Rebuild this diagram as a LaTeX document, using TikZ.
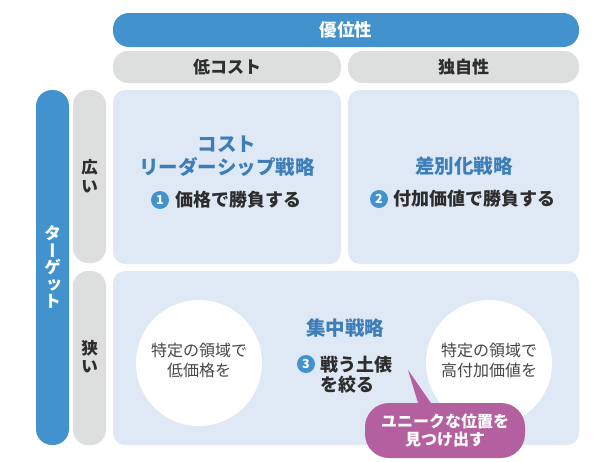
\documentclass[tikz,border=0pt]{standalone}
\usepackage{fontspec}
\setmainfont{Noto Sans CJK JP}
\usetikzlibrary{shapes.geometric}
\definecolor{barblue}{RGB}{66,146,206}
\definecolor{headgray}{RGB}{221,222,222}
\definecolor{cellblue}{RGB}{223,232,245}
\definecolor{titleblue}{RGB}{62,126,184}
\definecolor{darktext}{RGB}{45,45,45}
\definecolor{circtext}{RGB}{70,70,70}
\definecolor{pinkbub}{RGB}{180,96,160}
\tikzset{
  bluebar/.style={fill=barblue, rounded corners=16pt, inner sep=0pt, text=white,
    font=\fontsize{17.5}{20}\selectfont\bfseries},
  graybar/.style={fill=headgray, rounded corners=15pt, inner sep=0pt, text=darktext,
    font=\fontsize{17}{20}\selectfont\bfseries},
  cellbox/.style={fill=cellblue, rounded corners=12pt, inner sep=0pt},
  titletext/.style={text=titleblue, align=center, inner sep=0pt,
    font=\fontsize{19.5}{23}\selectfont\bfseries},
  bodytext/.style={text=darktext, anchor=west, inner sep=0pt,
    font=\fontsize{18}{21}\selectfont\bfseries},
  badge/.style={circle, fill=barblue, minimum size=18pt, inner sep=0pt, text=white,
    font=\fontsize{12.5}{13}\selectfont\bfseries},
  whitecirc/.style={circle, fill=white, minimum size=126pt, inner sep=0pt},
  circletext/.style={text=circtext, align=center, inner sep=0pt,
    font=\fontsize{16}{20}\selectfont},
  vchar/.style={inner sep=0pt, text height=12pt, text depth=2pt,
    font=\fontsize{16.5}{18}\selectfont\bfseries},
  bubble/.style={fill=pinkbub, rounded corners=24pt, minimum width=160pt, minimum height=55pt,
    inner sep=0pt, text=white, align=center, font=\fontsize{16}{18.5}\selectfont\bfseries},
}
\begin{document}
\begin{tikzpicture}[x=1pt,y=-1pt]
\useasboundingbox (0,0) rectangle (600,461);
\fill[white] (0,0) rectangle (600,461);
% header bars
\node[bluebar, minimum width=466pt, minimum height=34pt] (top) at (346,30) {優位性};
\node[graybar, minimum width=228pt, minimum height=32pt] (hl) at (227,67) {低コスト};
\node[graybar, minimum width=231pt, minimum height=32pt] (hr) at (463.5,67) {独自性};
% side bars
\node[bluebar, minimum width=33pt, minimum height=355pt] (vb) at (52.5,267.5) {};
\node[graybar, minimum width=33pt, minimum height=173pt] (g1) at (89.5,176.5) {};
\node[graybar, minimum width=33pt, minimum height=174pt] (g2) at (89.5,358) {};
% vertical texts
\node[vchar, text=white] (t1) at (52.5,234) {タ};
\node[vchar, text=white, rotate=-90, text height=11.5pt, text depth=0pt] (t2) at (52.5,251) {ー};
\node[vchar, text=white] (t3) at (52.5,268) {ゲ};
\node[vchar, text=white] (t4) at (54,284) {ッ};
\node[vchar, text=white] (t5) at (52.5,302) {ト};
\node[vchar, text=darktext] (w1) at (89.5,168) {広};
\node[vchar, text=darktext] (w2) at (89.5,187) {い};
\node[vchar, text=darktext] (n1) at (89.5,349) {狭};
\node[vchar, text=darktext] (n2) at (89.5,367) {い};
% cells
\node[cellbox, minimum width=228pt, minimum height=174pt] (c1) at (227,177) {};
\node[cellbox, minimum width=231pt, minimum height=174pt] (c2) at (463.5,177) {};
\node[cellbox, minimum width=466pt, minimum height=174pt] (c3) at (346,358) {};
% cell 1
\node[titletext] (c1t) at (227,156.5) {コスト\\リーダーシップ戦略};
\node[badge] (b1) at (160,200) {1};
\node[bodytext] (c1b) at (175,200) {価格で勝負する};
% cell 2
\node[titletext] (c2t) at (464,166) {差別化戦略};
\node[badge] (b2) at (379,199) {2};
\node[bodytext] (c2b) at (393,199) {付加価値で勝負する};
% cell 3
\node[whitecirc] (lc) at (199,363) {};
\node[whitecirc] (rc) at (489,363) {};
\node[circletext] (lct) at (199,360) {特定の領域で\\低価格を};
\node[circletext] (rct) at (489,360) {特定の領域で\\高付加価値を};
\node[titletext] (c3t) at (345,328) {集中戦略};
\node[badge] (b3) at (306,364) {3};
\node[bodytext] (c3b) at (320,365) {戦う土俵};
\node[bodytext, anchor=center] (c3c) at (347,385) {を絞る};
% bubble
\coordinate (tip) at (408,370);
\node[bubble] (bub) at (445,430.5) {ユニークな位置を\\見つけ出す};
\fill[pinkbub] (tip) -- (419,406) -- (433,406) -- cycle;
\end{tikzpicture}
\end{document}
